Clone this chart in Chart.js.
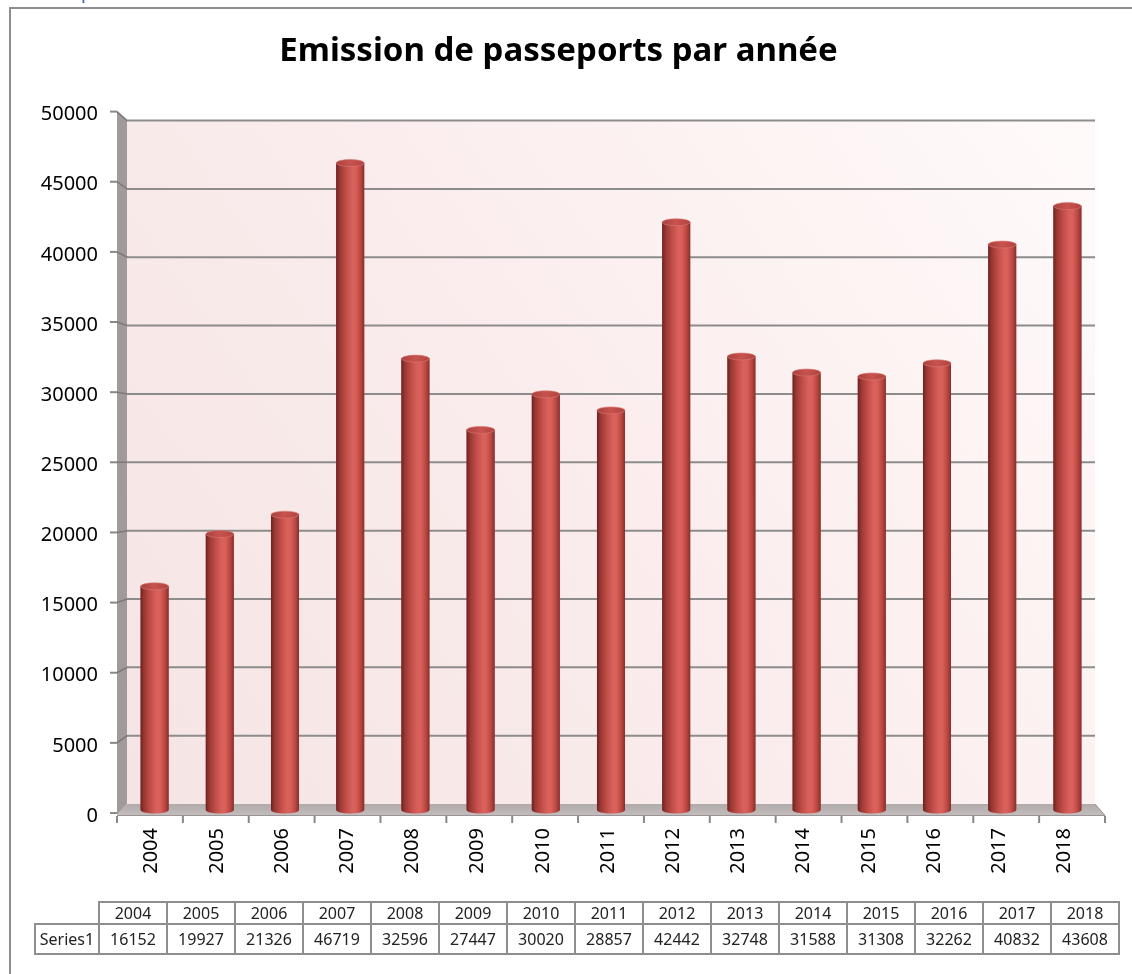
<!DOCTYPE html>
<html>
<head>
<meta charset="utf-8">
<title>Emission de passeports par année</title>
<script src="https://cdn.jsdelivr.net/npm/chart.js@4.4.0/dist/chart.umd.min.js"></script>
<style>
    html, body { margin: 0; padding: 0; background: #fff; width: 1132px; height: 974px; overflow: hidden; }
    #frame { position: absolute; left: 9px; top: 7px; width: 1200px; height: 1100px; border: 2px solid #8e8e8e; box-sizing: border-box; }
    #topText { position: absolute; left: 81px; top: -17px; font: 18px/18px 'Noto Sans', sans-serif; color: #2e63b8; }
    #c { position: absolute; left: 0; top: 0; }
    #dataTable { position: absolute; left: 34px; top: 901px; border-collapse: collapse; font-family: 'Noto Sans', sans-serif; font-size: 16px; color: #222; }
    #dataTable td { border: 2px solid #8e8e8e; text-align: center; padding: 0; width: 66px; }
    #dataTable tr.head td { height: 20px; line-height: 20px; }
    #dataTable tr.vals td { height: 28px; line-height: 28px; }
    #dataTable td.corner { border-top: none; border-left: none; width: 62px; }
    #dataTable td.name { width: 62px; }
</style>
</head>
<body>
<div id="topText">p</div>
<div id="frame"></div>
<canvas id="c" width="1132" height="974"></canvas>
<table id="dataTable"></table>

<script>
// --- DONNÉES ---
const chartTitle = 'Emission de passeports par année';
const seriesName = 'Series1';
const years = ['2004', '2005', '2006', '2007', '2008', '2009', '2010', '2011', '2012', '2013', '2014', '2015', '2016', '2017', '2018'];
const passports = [16152, 19927, 21326, 46719, 32596, 27447, 30020, 28857, 42442, 32748, 31588, 31308, 32262, 40832, 43608];
const yTicks = [0, 5000, 10000, 15000, 20000, 25000, 30000, 35000, 40000, 45000, 50000];

// --- TABLEAU DE DONNÉES SOUS LE GRAPHIQUE ---
function buildTable() {
    const table = document.getElementById('dataTable');
    const head = years.map(y => `<td>${y}</td>`).join('');
    const vals = passports.map(v => `<td>${v}</td>`).join('');
    table.innerHTML = `
        <tr class="head"><td class="corner"></td>${head}</tr>
        <tr class="vals"><td class="name">${seriesName}</td>${vals}</tr>
    `;
}

// --- DÉCOR 3D : murs, sol, grilles ---
const wallPlugin = {
    id: 'walls',
    beforeDatasetsDraw(chart) {
        const { ctx, chartArea: a, scales } = chart;
        const y = scales.y, yFront = scales.yFront, x = scales.x;
        const base = y.getPixelForValue(0);
        const top = y.getPixelForValue(yTicks[yTicks.length - 1]);
        const backTop = top + 3, backBottom = base - 6;
        const backL = a.left + 5, backR = a.right - 5;
        const frontL = a.left - 5, frontR = a.right + 5;
        const back = v => backBottom + (y.getPixelForValue(v) - base) / (top - base) * (backTop - backBottom);
        // les graduations avant sont un peu au-dessus des étiquettes
        const front = v => yFront.getPixelForValue(v) - 3;
        const fy0 = front(0) + 2;
        const fyTop = front(yTicks[yTicks.length - 1]);

        ctx.save();

        // mur du fond
        const wall = ctx.createLinearGradient(backL, backBottom, backR, backTop);
        wall.addColorStop(0, '#f5e4e4');
        wall.addColorStop(0.5, '#fbeded');
        wall.addColorStop(1, '#fffafa');
        ctx.fillStyle = wall;
        ctx.fillRect(backL, backTop, backR - backL, backBottom - backTop);

        // mur de côté
        ctx.fillStyle = '#a09a9a';
        ctx.beginPath();
        ctx.moveTo(frontL, fyTop);
        ctx.lineTo(backL, backTop);
        ctx.lineTo(backL, backBottom);
        ctx.lineTo(frontL, fy0);
        ctx.closePath();
        ctx.fill();

        // sol
        const floor = ctx.createLinearGradient(0, backBottom, 0, fy0);
        floor.addColorStop(0, '#b0aaaa');
        floor.addColorStop(1, '#c2bcbc');
        ctx.fillStyle = floor;
        ctx.beginPath();
        ctx.moveTo(frontL, fy0);
        ctx.lineTo(backL, backBottom);
        ctx.lineTo(backR, backBottom);
        ctx.lineTo(frontR, fy0);
        ctx.closePath();
        ctx.fill();
        ctx.strokeStyle = '#9a9494';
        ctx.lineWidth = 1;
        ctx.beginPath();
        ctx.moveTo(frontL, fy0 + 0.5);
        ctx.lineTo(frontR, fy0 + 0.5);
        ctx.lineTo(backR, backBottom);
        ctx.stroke();

        // lignes de grille + graduations
        yTicks.forEach(v => {
            const by = back(v), fy = front(v);
            if (v > 0) {
                ctx.strokeStyle = '#8c8c8c';
                ctx.lineWidth = 2;
                ctx.beginPath();
                ctx.moveTo(backL, by);
                ctx.lineTo(backR, by);
                ctx.stroke();
                ctx.strokeStyle = '#7d7878';
                ctx.lineWidth = 1.5;
                ctx.beginPath();
                ctx.moveTo(frontL, fy);
                ctx.lineTo(backL, by);
                ctx.stroke();
            }
            ctx.strokeStyle = '#888';
            ctx.lineWidth = 2;
            ctx.beginPath();
            ctx.moveTo(frontL - 7, fy);
            ctx.lineTo(frontL, fy);
            ctx.stroke();
        });

        // graduations de l'axe des catégories
        const n = years.length;
        const half = (x.getPixelForValue(1) - x.getPixelForValue(0)) / 2;
        ctx.strokeStyle = '#888';
        ctx.lineWidth = 2;
        for (let k = 0; k <= n; k++) {
            const bx = k < n ? x.getPixelForValue(k) - half : x.getPixelForValue(n - 1) + half;
            const fx = frontL + (bx - a.left) / (a.right - a.left) * (frontR - frontL);
            ctx.beginPath();
            ctx.moveTo(fx, fy0 + 1);
            ctx.lineTo(fx, fy0 + 8);
            ctx.stroke();
        }

        ctx.restore();
    }
};

// --- COLONNES CYLINDRIQUES ---
const cylinderPlugin = {
    id: 'cylinders',
    afterDatasetsDraw(chart) {
        const ctx = chart.ctx;
        chart.getDatasetMeta(0).data.forEach(bar => {
            const { x, y, base, width } = bar.getProps(['x', 'y', 'base', 'width'], true);
            const l = x - width / 2, r = x + width / 2, ry = 3.5;

            const body = ctx.createLinearGradient(l, 0, r, 0);
            body.addColorStop(0, '#6a2321');
            body.addColorStop(0.12, '#983733');
            body.addColorStop(0.35, '#c24d48');
            body.addColorStop(0.58, '#da625c');
            body.addColorStop(0.7, '#d95f59');
            body.addColorStop(0.88, '#b8453f');
            body.addColorStop(1, '#83302d');

            ctx.save();
            ctx.fillStyle = body;
            ctx.beginPath();
            ctx.moveTo(l, y);
            ctx.lineTo(l, base);
            ctx.ellipse(x, base, width / 2, ry, 0, Math.PI, 0, true);
            ctx.lineTo(r, y);
            ctx.closePath();
            ctx.fill();

            // couvercle discret
            const cap = ctx.createLinearGradient(l, 0, r, 0);
            cap.addColorStop(0, '#a8413d');
            cap.addColorStop(0.5, '#c9534e');
            cap.addColorStop(1, '#b0433e');
            ctx.fillStyle = cap;
            ctx.beginPath();
            ctx.ellipse(x, y, width / 2, ry, 0, 0, Math.PI * 2);
            ctx.fill();
            ctx.strokeStyle = 'rgba(215, 120, 115, 0.6)';
            ctx.lineWidth = 1;
            ctx.stroke();
            ctx.restore();
        });
    }
};

const labelFont = { family: 'Noto Sans', size: 20 };

new Chart(document.getElementById('c'), {
    type: 'bar',
    data: {
        labels: years,
        datasets: [{
            label: seriesName,
            data: passports,
            backgroundColor: '#c94f4a',
            borderWidth: 0,
            categoryPercentage: 1,
            barPercentage: 0.43,
            xAxisID: 'x',
            yAxisID: 'y'
        }]
    },
    options: {
        responsive: false,
        animation: false,
        devicePixelRatio: 1,
        layout: { padding: { left: 17, right: 32, top: 0, bottom: 0 } },
        plugins: {
            legend: { display: false },
            tooltip: { enabled: false },
            title: {
                display: true,
                text: chartTitle,
                color: '#000',
                font: { family: 'Noto Sans', size: 33, weight: 'bold' },
                padding: { top: 32, bottom: 46 }
            }
        },
        scales: {
            x: {
                grid: { display: false, drawTicks: false },
                border: { display: false },
                ticks: {
                    autoSkip: false,
                    minRotation: 90,
                    maxRotation: 90,
                    padding: 18,
                    labelOffset: -3,
                    color: '#000',
                    font: labelFont
                },
                afterFit(scale) { scale.height = 164; }
            },
            y: {
                display: false,
                min: 0,
                max: 50000
            },
            // axe "avant" de la perspective : porte les étiquettes
            yFront: {
                position: 'left',
                min: 428,
                max: 49786,
                grid: { display: false, drawTicks: false },
                border: { display: false },
                ticks: {
                    padding: 24,
                    color: '#000',
                    font: labelFont,
                    callback: v => String(v)
                },
                afterBuildTicks(scale) { scale.ticks = yTicks.map(v => ({ value: v })); },
                afterFit(scale) { scale.width = 105; }
            }
        }
    },
    plugins: [wallPlugin, cylinderPlugin]
});

buildTable();
</script>
</body>
</html>
